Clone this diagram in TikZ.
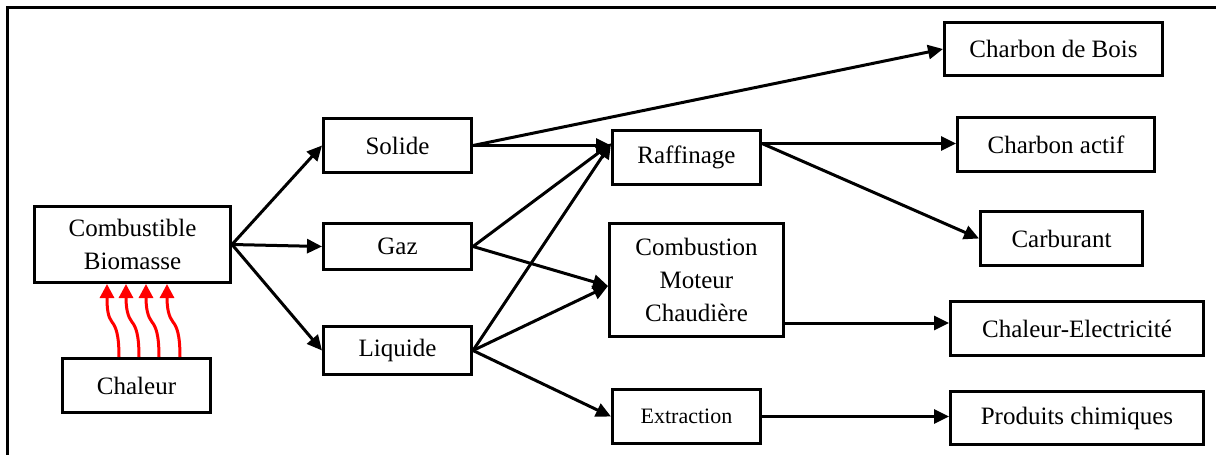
\documentclass[tikz,border=0pt]{standalone}
\usepackage{fontspec}
\setmainfont{Liberation Serif}
\usetikzlibrary{arrows.meta,calc}
\begin{document}
\begin{tikzpicture}[x=1pt,y=-1pt,
  box/.style={draw,line width=3pt,rectangle,align=center,inner sep=0pt,
    font=\fontsize{25}{33}\selectfont},
  conn/.style={line width=3pt,-{Triangle[length=15pt,width=14pt]}},
  heat/.style={red,line width=3pt,-{Triangle[length=14pt,width=14pt]}}]
\useasboundingbox (0,0) rectangle (1216,455);
\draw[line width=3pt] (7,455) -- (7,7) -- (1216,7);
% nodes
\node[box,minimum width=196pt,minimum height=76pt] (cb) at (132.5,244.5) {Combustible\\Biomasse};
\node[box,minimum width=148pt,minimum height=54pt] (chal) at (136.5,385.5) {Chaleur};
\node[box,minimum width=148pt,minimum height=54pt] (sol) at (397.5,145.5) {Solide};
\node[box,minimum width=148pt,minimum height=46pt] (gaz) at (397.5,246.5) {Gaz};
\node[box,minimum width=148pt,minimum height=48pt] (liq) at (397.5,350.5) {Liquide};
\node[box,minimum width=148pt,minimum height=54pt] (raf) at (686.5,157.5) {Raffinage};
\node[box,minimum width=174pt,minimum height=113pt] (comb) at (696.5,280) {Combustion\\Moteur\\Chaudière};
\node[box,minimum width=148pt,minimum height=54pt,font=\fontsize{22}{28}\selectfont] (ext) at (686.5,416.5) {Extraction};
\node[box,minimum width=218pt,minimum height=53pt] (cdb) at (1053.5,49) {Charbon de Bois};
\node[box,minimum width=197pt,minimum height=54pt] (ca) at (1056,144.5) {Charbon actif};
\node[box,minimum width=162pt,minimum height=54pt] (carb) at (1061.5,238.5) {Carburant};
\node[box,minimum width=253pt,minimum height=54pt] (ce) at (1077,328.5) {Chaleur-Electricité};
\node[box,minimum width=253pt,minimum height=53pt] (pc) at (1077,418) {Produits chimiques};
% helper coordinates
\coordinate (rafin) at ($(raf.west)+(0,-14)$);
\coordinate (rafout) at ($(raf.east)+(0,-14)$);
\coordinate (combin) at ($(comb.west)+(0,6)$);
\coordinate (combout) at ($(comb.east)+(0,43)$);
% connectors
\draw[conn] (cb.east) -- (sol.west);
\draw[conn] (cb.east) -- (gaz.west);
\draw[conn] (cb.east) -- (liq.west);
\draw[conn] (sol.east) -- (cdb.west);
\draw[conn] (sol.east) -- (sol.east -| rafin);
\draw[conn] (gaz.east) -- (rafin);
\draw[conn] (gaz.east) -- (combin);
\draw[conn] (liq.east) -- (rafin);
\draw[conn] (liq.east) -- (combin);
\draw[conn] (liq.east) -- (ext.west);
\draw[conn] (rafout) -- (rafout -| ca.west);
\draw[conn] (rafout) -- (carb.west);
\draw[conn] (combout) -- (combout -| ce.west);
\draw[conn] (ext.east) -- (ext.east -| pc.west);
% heat arrows
\foreach \a/\b in {-17.5/-25.5, 2.5/-6.5, 22.5/13.5, 43.5/34.5}{
  \draw[heat] ($(chal.north)+(\a,0)$) .. controls +(0,-22) and +(4,5) .. ($(chal.north)+(\a-7,-35)$)
     .. controls +(-4,-5) and +(0,25) .. ($(cb.south)+(\b,0)$);
}
\end{tikzpicture}
\end{document}
